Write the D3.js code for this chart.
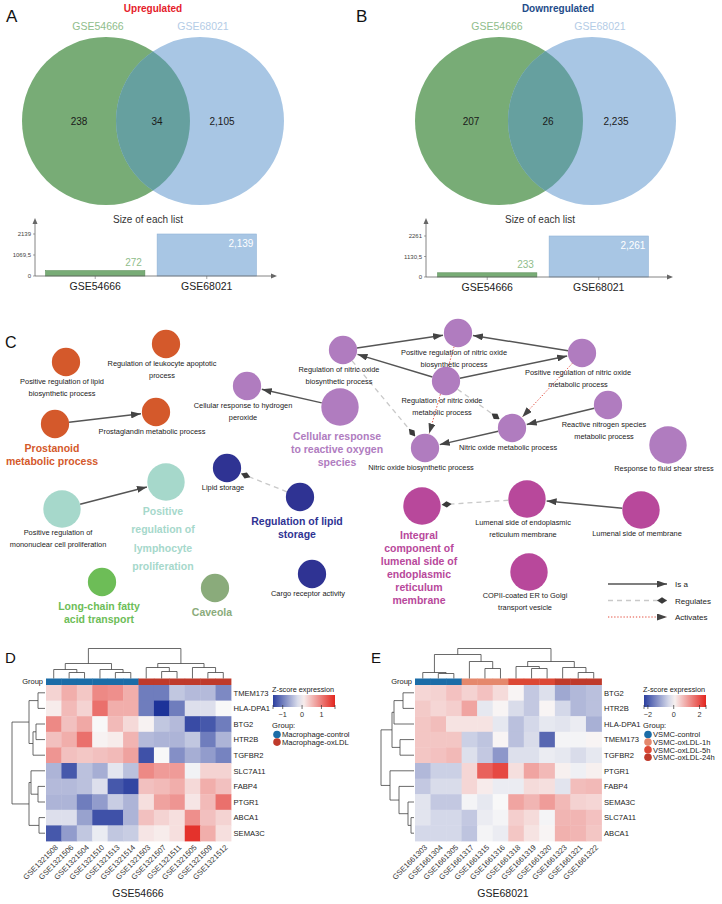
<!DOCTYPE html>
<html>
<head>
<meta charset="utf-8">
<script src="https://cdn.jsdelivr.net/npm/d3@7/dist/d3.min.js"></script>
<style>
html,body{margin:0;padding:0;background:#fff}
svg{display:block}
svg text{font-family:"Liberation Sans",Arial,Helvetica,sans-serif}
</style>
</head>
<body>
<svg id="fig" width="722" height="904"></svg>
<script>
// ================= DATA =================
const datasets = ["GSE54666", "GSE68021"];
// [only GSE54666, shared, only GSE68021]
const upOverlap = [238, 34, 2105];
const downOverlap = [207, 26, 2235];
const upListSize = [272, 2139];
const downListSize = [233, 2261];

// GO network (panel C)
const goClusters = [
  "Prostanoid metabolic process",
  "Positive regulation of lymphocyte proliferation",
  "Long-chain fatty acid transport",
  "Caveola",
  "Regulation of lipid storage",
  "Cellular response to reactive oxygen species",
  "Integral component of lumenal side of endoplasmic reticulum membrane"
];
const goTerms = [
  {term:"Positive regulation of lipid biosynthetic process", cluster:0, genes:4, hub:false, lines:["Positive regulation of lipid","biosynthetic process"]},
  {term:"Regulation of leukocyte apoptotic process", cluster:0, genes:4, hub:false, lines:["Regulation of leukocyte apoptotic","process"]},
  {term:"Prostanoid metabolic process", cluster:0, genes:4, hub:true, lines:["Prostanoid","metabolic process"]},
  {term:"Prostaglandin metabolic process", cluster:0, genes:4, hub:false, lines:["Prostaglandin metabolic process"]},
  {term:"Positive regulation of lymphocyte proliferation", cluster:1, genes:7, hub:true, lines:["Positive","regulation of","lymphocyte","proliferation"]},
  {term:"Positive regulation of mononuclear cell proliferation", cluster:1, genes:7, hub:false, lines:["Positive regulation of","mononuclear cell proliferation"]},
  {term:"Long-chain fatty acid transport", cluster:2, genes:4, hub:true, lines:["Long-chain fatty","acid transport"]},
  {term:"Caveola", cluster:3, genes:4, hub:true, lines:["Caveola"]},
  {term:"Lipid storage", cluster:4, genes:4, hub:false, lines:["Lipid storage"]},
  {term:"Regulation of lipid storage", cluster:4, genes:4, hub:true, lines:["Regulation of lipid","storage"]},
  {term:"Cargo receptor activity", cluster:4, genes:4, hub:false, lines:["Cargo receptor activity"]},
  {term:"Cellular response to hydrogen peroxide", cluster:5, genes:4, hub:false, lines:["Cellular response to hydrogen","peroxide"]},
  {term:"Cellular response to reactive oxygen species", cluster:5, genes:7, hub:true, lines:["Cellular response","to reactive oxygen","species"]},
  {term:"Regulation of nitric oxide biosynthetic process", cluster:5, genes:4, hub:false, lines:["Regulation of nitric oxide","biosynthetic process"]},
  {term:"Positive regulation of nitric oxide biosynthetic process", cluster:5, genes:4, hub:false, lines:["Positive regulation of nitric oxide","biosynthetic process"]},
  {term:"Regulation of nitric oxide metabolic process", cluster:5, genes:4, hub:false, lines:["Regulation of nitric oxide","metabolic process"]},
  {term:"Nitric oxide biosynthetic process", cluster:5, genes:4, hub:false, lines:["Nitric oxide biosynthetic process"]},
  {term:"Positive regulation of nitric oxide metabolic process", cluster:5, genes:4, hub:false, lines:["Positive regulation of nitric oxide","metabolic process"]},
  {term:"Reactive nitrogen species metabolic process", cluster:5, genes:4, hub:false, lines:["Reactive nitrogen species","metabolic process"]},
  {term:"Nitric oxide metabolic process", cluster:5, genes:4, hub:false, lines:["Nitric oxide metabolic process"]},
  {term:"Response to fluid shear stress", cluster:5, genes:7, hub:false, lines:["Response to fluid shear stress"]},
  {term:"Lumenal side of endoplasmic reticulum membrane", cluster:6, genes:7, hub:false, lines:["Lumenal side of endoplasmic","reticulum membrane"]},
  {term:"Lumenal side of membrane", cluster:6, genes:7, hub:false, lines:["Lumenal side of membrane"]},
  {term:"Integral component of lumenal side of endoplasmic reticulum membrane", cluster:6, genes:7, hub:true, lines:["Integral","component of","lumenal side of","endoplasmic","reticulum","membrane"]},
  {term:"COPII-coated ER to Golgi transport vesicle", cluster:6, genes:7, hub:false, lines:["COPII-coated ER to Golgi","transport vesicle"]}
];
const edgeTypes = ["Is a", "Regulates", "Activates"];
const goEdges = [
  ["Prostanoid metabolic process","Prostaglandin metabolic process",0],
  ["Positive regulation of mononuclear cell proliferation","Positive regulation of lymphocyte proliferation",0],
  ["Cellular response to reactive oxygen species","Cellular response to hydrogen peroxide",0],
  ["Regulation of lipid storage","Lipid storage",1],
  ["Regulation of nitric oxide biosynthetic process","Positive regulation of nitric oxide biosynthetic process",0],
  ["Regulation of nitric oxide metabolic process","Regulation of nitric oxide biosynthetic process",0],
  ["Regulation of nitric oxide metabolic process","Positive regulation of nitric oxide metabolic process",0],
  ["Positive regulation of nitric oxide metabolic process","Positive regulation of nitric oxide biosynthetic process",0],
  ["Regulation of nitric oxide biosynthetic process","Nitric oxide biosynthetic process",1],
  ["Positive regulation of nitric oxide biosynthetic process","Nitric oxide biosynthetic process",2],
  ["Positive regulation of nitric oxide metabolic process","Nitric oxide metabolic process",2],
  ["Regulation of nitric oxide metabolic process","Nitric oxide metabolic process",1],
  ["Reactive nitrogen species metabolic process","Nitric oxide metabolic process",0],
  ["Nitric oxide metabolic process","Nitric oxide biosynthetic process",0],
  ["Lumenal side of membrane","Lumenal side of endoplasmic reticulum membrane",0],
  ["Lumenal side of endoplasmic reticulum membrane","Integral component of lumenal side of endoplasmic reticulum membrane",1]
];

// Heatmap D (GSE54666)
const genesD = ["TMEM173","HLA-DPA1","BTG2","HTR2B","TGFBR2","SLC7A11","FABP4","PTGR1","ABCA1","SEMA3C"];
const samplesD = ["GSE1321508","GSE1321506","GSE1321504","GSE1321510","GSE1321513","GSE1321514","GSE1321503","GSE1321507","GSE1321511","GSE1321505","GSE1321509","GSE1321512"];
const groupNamesD = ["Macrophage-control","Macrophage-oxLDL"];
const sampleGroupD = [0,0,0,0,0,0,1,1,1,1,1,1];
const zD = [
  [0.3,0.6,0.4,0.9,0.85,0.6,-1.0,-1.0,-0.4,-0.5,-0.5,-0.9],
  [0.1,0.5,0.3,1.1,0.6,0.6,-1.0,-1.6,-1.0,-0.2,-0.2,0.0],
  [0.9,0.45,0.65,0.0,0.5,0.25,0.05,-0.4,-0.5,-1.4,-1.3,-1.0],
  [0.45,0.6,1.1,0.05,0.1,0.55,-0.5,-0.55,-0.55,-0.4,-1.0,-0.55],
  [0.8,0.45,0.4,0.45,0.5,0.7,-1.35,0.0,-0.85,-0.6,-0.75,-0.95],
  [-0.55,-1.3,-0.45,-0.6,-0.15,-0.45,0.9,0.75,0.75,-0.05,0.3,0.3],
  [-0.5,-0.5,-0.45,-0.2,-1.3,-1.45,0.45,0.5,0.6,0.25,0.6,0.45],
  [-0.55,-0.55,-1.0,-0.75,-0.35,-0.55,0.2,0.7,0.8,0.15,0.5,1.1],
  [-0.2,-0.2,-0.7,-1.35,-1.35,-0.55,0.45,0.3,0.2,0.85,0.45,0.3],
  [-1.3,-0.75,-0.4,-0.1,-0.4,-0.35,0.15,0.1,0.2,1.6,0.6,0.2]
];
// dendrograms: [height, left, right], leaves = index
const colTreeD = [30,[15,[9,0,[6,1,2]],[9,3,[6,4,5]]],[15,[11,6,[7,7,8]],[11,9,[6,10,11]]]];
const rowTreeD = [33,[16,[7,0,1],[12,[9,2,3],4]],[16,[14,5,[7,6,7]],[6,8,9]]];
const zTicksD = [-1,0,1];

// Heatmap E (GSE68021)
const genesE = ["BTG2","HTR2B","HLA-DPA1","TMEM173","TGFBR2","PTGR1","FABP4","SEMA3C","SLC7A11","ABCA1"];
const samplesE = ["GSE1661303","GSE1661304","GSE1661305","GSE1661317","GSE1661315","GSE1661316","GSE1661318","GSE1661319","GSE1661320","GSE1661323","GSE1661321","GSE1661322"];
const groupNamesE = ["VSMC-control","VSMC-oxLDL-1h","VSMC-oxLDL-5h","VSMC-oxLDL-24h"];
const sampleGroupE = [0,0,0,1,1,1,2,2,2,3,3,3];
const zE = [
  [0.4,0.45,0.65,0.45,0.65,0.35,0.05,-0.6,-0.3,-1.0,-0.8,-0.7],
  [0.55,0.4,0.5,1.0,-0.2,0.05,-0.35,-0.6,0.05,-0.4,-0.8,-0.7],
  [0.6,0.7,0.25,0.25,0.25,-0.2,-0.7,-0.4,-0.2,-0.25,-0.15,-0.9],
  [0.6,0.6,0.6,-0.5,-0.65,0.05,-0.7,-0.35,-1.8,-0.05,-0.05,0.05],
  [0.6,0.65,0.75,-0.3,-0.6,-1.2,-0.3,-0.3,-0.15,-0.2,-0.35,-0.2],
  [-0.8,-0.5,-0.5,0.4,1.8,2.1,0.3,1.0,0.75,0.1,-0.1,0.1],
  [-0.6,-0.35,-0.35,0.4,0.15,-0.15,-0.15,0.35,0.3,-0.25,0.7,0.75],
  [-0.25,-0.6,-0.6,-0.05,-0.2,0.0,1.0,0.8,1.1,0.75,0.45,0.4],
  [-0.25,-0.4,-0.4,-0.6,-0.15,-0.05,0.5,0.35,-0.05,0.8,0.8,0.65],
  [-0.4,-0.4,-0.4,-0.65,-0.05,-0.15,0.6,0.25,0.05,0.85,0.8,0.6]
];
const colTreeE = [30,[24,[6,0,[5,1,2]],[17,3,[10,4,5]]],[17,[12,6,[10,7,8]],[11,9,[6,10,11]]]];
const rowTreeE = [33,[22,[20,[11,0,1],2],[14,3,4]],[24,5,[15,6,[6,7,[3,8,9]]]]];
const zTicksE = [-2,0,2];

// ================= LAYOUT / STYLE =================
const svg = d3.select("#fig");
const defs = svg.append("defs");
const TXT = "#222";

function letter(x, y, t, fs) {
  svg.append("text").attr("x", x).attr("y", y).attr("font-size", fs || 16).attr("fill", "#111").text(t);
}

// ---------- Venn panels ----------
function vennPanel(L, counts, sizes, title, titleColor) {
  const g = svg.append("g");
  letter(L.letterX, 22, L.letter, 17);
  g.append("text").attr("x", L.titleX).attr("y", 12).attr("text-anchor", "middle")
    .attr("font-size", 10).attr("font-weight", "bold").attr("fill", titleColor).text(title);
  const cid = "vclip" + L.letter;
  defs.append("clipPath").attr("id", cid).append("circle").attr("cx", L.c[0]).attr("cy", L.cy).attr("r", L.r);
  const setFill = ["#78ac76", "#a8c6e4"];
  g.append("circle").attr("cx", L.c[0]).attr("cy", L.cy).attr("r", L.r).attr("fill", setFill[0]);
  g.append("circle").attr("cx", L.c[1]).attr("cy", L.cy).attr("r", L.r).attr("fill", setFill[1]);
  g.append("circle").attr("cx", L.c[1]).attr("cy", L.cy).attr("r", L.r).attr("fill", "#66a09f")
    .attr("clip-path", `url(#${cid})`);
  const setLabel = ["#8fbd8b", "#b4cce6"];
  datasets.forEach((d, i) => g.append("text").attr("x", L.lab[i]).attr("y", 30).attr("text-anchor", "middle")
    .attr("font-size", 10.5).attr("fill", setLabel[i]).text(d));
  counts.forEach((v, i) => g.append("text").attr("x", L.num[i]).attr("y", L.cy + 3.5).attr("text-anchor", "middle")
    .attr("font-size", 10).attr("fill", "#1a1a1a").text(d3.format(",")(v)));

  // bar chart of list sizes
  const max = d3.max(sizes);
  const x = d3.scaleBand().domain(datasets).range(L.band).paddingInner(0.11).paddingOuter(0.05);
  const y = d3.scaleLinear().domain([0, max]).range([L.base, L.top]);
  g.append("text").attr("x", (L.band[0] + L.band[1]) / 2 - 3).attr("y", 223).attr("text-anchor", "middle")
    .attr("font-size", 10).attr("fill", "#333").text("Size of each list");
  sizes.forEach((v, i) => {
    const bx = x(datasets[i]), by = y(v), bh = L.base - by;
    g.append("rect").attr("x", bx).attr("y", by).attr("width", x.bandwidth()).attr("height", bh)
      .attr("fill", setFill[i]).attr("stroke", i ? "#8fb2d6" : "#5b8f59").attr("stroke-width", 0.6);
    const inside = bh > 20;
    g.append("text").attr("x", bx + x.bandwidth() - 3).attr("y", inside ? by + 13 : by - 5)
      .attr("text-anchor", "end").attr("font-size", 10)
      .attr("fill", inside ? "#ffffff" : "#8fbd8b").text(d3.format(",")(v));
  });
  const ax = "#666";
  g.append("line").attr("x1", L.axisX).attr("x2", L.axisX).attr("y1", L.base).attr("y2", L.arrowTop + 5)
    .attr("stroke", ax).attr("stroke-width", 0.8);
  g.append("path").attr("d", `M${L.axisX - 2.5},${L.arrowTop + 6}L${L.axisX},${L.arrowTop}L${L.axisX + 2.5},${L.arrowTop + 6}Z`).attr("fill", ax);
  g.append("line").attr("x1", L.axisX).attr("x2", L.arrowRight - 5).attr("y1", L.base).attr("y2", L.base)
    .attr("stroke", ax).attr("stroke-width", 0.8);
  g.append("path").attr("d", `M${L.arrowRight - 6},${L.base - 2.5}L${L.arrowRight},${L.base}L${L.arrowRight - 6},${L.base + 2.5}Z`).attr("fill", ax);
  [0, max / 2, max].forEach(t => {
    g.append("line").attr("x1", L.axisX - 2).attr("x2", L.axisX).attr("y1", y(t)).attr("y2", y(t)).attr("stroke", ax).attr("stroke-width", 0.6);
    g.append("text").attr("x", L.axisX - 4).attr("y", y(t) + 2).attr("text-anchor", "end").attr("font-size", 6)
      .attr("fill", "#444").text(Number.isInteger(t) ? t : String(t).replace(".", ","));
  });
  datasets.forEach(d => {
    const cx = x(d) + x.bandwidth() / 2;
    g.append("line").attr("x1", cx).attr("x2", cx).attr("y1", L.base).attr("y2", L.base + 3).attr("stroke", ax).attr("stroke-width", 0.6);
    g.append("text").attr("x", cx).attr("y", L.base + 14).attr("text-anchor", "middle").attr("font-size", 10.5)
      .attr("fill", "#222").text(d);
  });
}
vennPanel({letter:"A", letterX:6, titleX:153, c:[106,200], cy:121, r:84, lab:[98,203], num:[79,157,222],
  band:[40,262], base:276, top:234, axisX:35, arrowTop:218, arrowRight:277},
  upOverlap, upListSize, "Upregulated", "#e5202a");
vennPanel({letter:"B", letterX:356, titleX:558, c:[499,592], cy:121, r:84, lab:[497,600], num:[471,548,616],
  band:[432,654], base:277, top:236, axisX:426, arrowTop:218, arrowRight:673},
  downOverlap, downListSize, "Downregulated", "#1e4c8a");

// ---------- Panel C: GO network ----------
letter(5, 348, "C", 16);
const clusterColor = d3.scaleOrdinal().domain(d3.range(goClusters.length))
  .range(["#d4592b", "#a6d8cb", "#6dbd57", "#8aab7b", "#2f3393", "#b07cbf", "#b8489b"]);
const rScale = d3.scaleSqrt().domain([0, 7]).range([0, 18.7]);
const nodePos = {
  "Positive regulation of lipid biosynthetic process":[66,362],
  "Regulation of leukocyte apoptotic process":[166,344],
  "Prostanoid metabolic process":[55,424],
  "Prostaglandin metabolic process":[156,412],
  "Positive regulation of lymphocyte proliferation":[166,482],
  "Positive regulation of mononuclear cell proliferation":[62,509],
  "Long-chain fatty acid transport":[102,582],
  "Caveola":[215,588],
  "Lipid storage":[227,468],
  "Regulation of lipid storage":[300,497],
  "Cargo receptor activity":[312,574],
  "Cellular response to hydrogen peroxide":[247,386],
  "Cellular response to reactive oxygen species":[340,407],
  "Regulation of nitric oxide biosynthetic process":[343,350],
  "Positive regulation of nitric oxide biosynthetic process":[458,333],
  "Regulation of nitric oxide metabolic process":[446,381],
  "Nitric oxide biosynthetic process":[425,448],
  "Positive regulation of nitric oxide metabolic process":[582,353],
  "Reactive nitrogen species metabolic process":[608,405],
  "Nitric oxide metabolic process":[512,428],
  "Response to fluid shear stress":[668,445],
  "Lumenal side of endoplasmic reticulum membrane":[527,499],
  "Lumenal side of membrane":[641,510],
  "Integral component of lumenal side of endoplasmic reticulum membrane":[422,506],
  "COPII-coated ER to Golgi transport vesicle":[529,572]
};
const hubLeading = {"Positive regulation of lymphocyte proliferation":18.5};

const mk = (id, d, color, w, h, refX) => {
  defs.append("marker").attr("id", id).attr("viewBox", `0 ${-h/2} ${w} ${h}`).attr("refX", refX).attr("refY", 0)
    .attr("markerUnits", "userSpaceOnUse").attr("markerWidth", w).attr("markerHeight", h).attr("orient", "auto")
    .append("path").attr("d", d).attr("fill", color);
};
mk("mIsa", "M0,-3.5L10,0L0,3.5Z", "#444", 10, 7, 10);
mk("mReg", "M0,0L5,-3.2L10,0L5,3.2Z", "#3a3a3a", 10, 7, 10);
mk("mAct", "M0,-3.5L10,0L0,3.5Z", "#444", 10, 7, 10);
const edgeStyle = [
  {stroke:"#555", width:1.5, dash:null, marker:"mIsa"},
  {stroke:"#c9c9c9", width:1.3, dash:"5,4", marker:"mReg"},
  {stroke:"#e24a3b", width:1, dash:"1.3,1.8", marker:"mAct"}
];
const nodeByTerm = new Map(goTerms.map(t => [t.term, t]));
const gC = svg.append("g");
goEdges.forEach(([s, t, type]) => {
  const a = nodePos[s], b = nodePos[t];
  const rs = rScale(nodeByTerm.get(s).genes), rt = rScale(nodeByTerm.get(t).genes);
  const dx = b[0] - a[0], dy = b[1] - a[1], len = Math.hypot(dx, dy);
  const ux = dx / len, uy = dy / len;
  const st = edgeStyle[type];
  gC.append("line").attr("x1", a[0] + ux * rs).attr("y1", a[1] + uy * rs)
    .attr("x2", b[0] - ux * (rt + 1)).attr("y2", b[1] - uy * (rt + 1))
    .attr("stroke", st.stroke).attr("stroke-width", st.width).attr("stroke-dasharray", st.dash)
    .attr("marker-end", `url(#${st.marker})`);
});
goTerms.forEach(t => {
  const [cx, cy] = nodePos[t.term];
  const r = rScale(t.genes);
  const col = clusterColor(t.cluster);
  gC.append("circle").attr("cx", cx).attr("cy", cy).attr("r", r).attr("fill", col);
  const txt = gC.append("text").attr("text-anchor", "middle");
  if (t.hub) {
    const lead = hubLeading[t.term] || 13;
    txt.attr("font-size", 10.5).attr("font-weight", "bold").attr("fill", col);
    t.lines.forEach((ln, i) => txt.append("tspan").attr("x", cx - 3).attr("y", cy + r + 14 + i * lead).text(ln));
  } else {
    txt.attr("font-size", 7.4).attr("fill", "#1a1a1a");
    t.lines.forEach((ln, i) => txt.append("tspan").attr("x", cx - 4).attr("y", cy + r + 7.5 + i * 12).text(ln));
  }
});
// legend
edgeTypes.forEach((name, i) => {
  const st = edgeStyle[i];
  const ly = 584 + i * 16.5;
  gC.append("line").attr("x1", 608).attr("x2", 667).attr("y1", ly).attr("y2", ly)
    .attr("stroke", st.stroke).attr("stroke-width", st.width).attr("stroke-dasharray", st.dash)
    .attr("marker-end", `url(#${st.marker})`);
  gC.append("text").attr("x", 675).attr("y", ly + 3).attr("font-size", 8).attr("fill", "#222").text(name);
});

// ---------- Heatmap panels ----------
const heatColors = ["#2b3f9f", "#f8f8f8", "#e3261f"];
function drawDendroCol(g, tree, x, base) {
  function rec(n) {
    if (typeof n === "number") return {p: x(n), h: 0};
    const [h, a, b] = n, A = rec(a), B = rec(b);
    g.append("path").attr("d", `M${A.p},${base - A.h}V${base - h}H${B.p}V${base - B.h}`)
      .attr("fill", "none").attr("stroke", "#444").attr("stroke-width", 0.8);
    return {p: (A.p + B.p) / 2, h};
  }
  rec(tree);
}
function drawDendroRow(g, tree, y, base) {
  function rec(n) {
    if (typeof n === "number") return {p: y(n), h: 0};
    const [h, a, b] = n, A = rec(a), B = rec(b);
    g.append("path").attr("d", `M${base - A.h},${A.p}H${base - h}V${B.p}H${base - B.h}`)
      .attr("fill", "none").attr("stroke", "#444").attr("stroke-width", 0.8);
    return {p: (A.p + B.p) / 2, h};
  }
  rec(tree);
}
function heatPanel(P) {
  const g = svg.append("g");
  letter(P.letterX, 663, P.letter, 15);
  const x = d3.scaleBand().domain(P.samples).range([P.x0, P.x1]);
  const y = d3.scaleBand().domain(P.genes).range([P.y0, P.y1]);
  const color = d3.scaleLinear().domain([P.zDomain[0], 0, P.zDomain[1]]).range(heatColors);
  const gcol = d3.scaleOrdinal().domain(P.groupNames).range(P.groupColors);
  P.values.forEach((row, i) => row.forEach((v, j) => {
    g.append("rect").attr("x", x(P.samples[j])).attr("y", y(P.genes[i]))
      .attr("width", x.bandwidth() + 0.4).attr("height", y.bandwidth() + 0.4).attr("fill", color(v));
  }));
  P.samples.forEach((s, j) => g.append("rect").attr("x", x(s)).attr("y", P.y0 - 6.5)
    .attr("width", x.bandwidth() + 0.4).attr("height", 6.5).attr("fill", gcol(P.groupNames[P.groups[j]])));
  g.append("text").attr("x", P.x0 - 3).attr("y", P.y0 - 1).attr("text-anchor", "end").attr("font-size", 7.5)
    .attr("fill", TXT).text("Group");
  drawDendroCol(g, P.colTree, j => x(P.samples[j]) + x.bandwidth() / 2, P.y0 - 6.5);
  drawDendroRow(g, P.rowTree, i => y(P.genes[i]) + y.bandwidth() / 2, P.x0 - 1);
  P.genes.forEach(gn => g.append("text").attr("x", P.x1 + 2.5).attr("y", y(gn) + y.bandwidth() / 2 + 2.7)
    .attr("font-size", 7.6).attr("fill", TXT).text(gn));
  P.samples.forEach(s => {
    const cx = x(s) + x.bandwidth() / 2 + 3;
    g.append("text").attr("transform", `translate(${cx},${P.y1 + 5}) rotate(-45)`).attr("text-anchor", "end")
      .attr("font-size", 7.6).attr("fill", "#333").attr("dy", "0.35em").text(s);
  });
  g.append("text").attr("x", P.titleX).attr("y", 897).attr("text-anchor", "middle").attr("font-size", 10.5)
    .attr("fill", TXT).text(P.title);
  // legend
  const lx = P.legX, lw = 62;
  g.append("text").attr("x", lx - 1).attr("y", 692).attr("font-size", 7.3).attr("fill", TXT).text("Z-score expression");
  const gid = "grad" + P.letter;
  const lg = defs.append("linearGradient").attr("id", gid);
  const ls = d3.scaleLinear().domain(P.zDomain).range([lx, lx + lw]);
  d3.range(0, 1.0001, 0.1).forEach(f => {
    const v = P.zDomain[0] + f * (P.zDomain[1] - P.zDomain[0]);
    lg.append("stop").attr("offset", f).attr("stop-color", color(v));
  });
  g.append("rect").attr("x", lx).attr("y", 695).attr("width", lw).attr("height", 12).attr("fill", `url(#${gid})`);
  [P.zDomain[0], ...P.zTicks, P.zDomain[1]].forEach(t => g.append("line").attr("x1", ls(t)).attr("x2", ls(t))
    .attr("y1", 705).attr("y2", 709).attr("stroke", "#333").attr("stroke-width", 0.7));
  P.zTicks.forEach(t => g.append("text").attr("x", ls(t)).attr("y", 717).attr("text-anchor", "middle")
    .attr("font-size", 7.3).attr("fill", "#333").text(t < 0 ? "\u2212" + Math.abs(t) : t));
  g.append("text").attr("x", lx - 1).attr("y", 728).attr("font-size", 7.6).attr("fill", TXT).text("Group:");
  P.groupNames.forEach((nm, k) => {
    const yy = 734.5 + k * 7.6;
    g.append("circle").attr("cx", lx + 4).attr("cy", yy).attr("r", 3.8).attr("fill", gcol(nm));
    g.append("text").attr("x", lx + 9).attr("y", yy + 2.8).attr("font-size", 7.6).attr("fill", TXT).text(nm);
  });
}
heatPanel({letter:"D", letterX:5, samples:samplesD, genes:genesD, values:zD, groups:sampleGroupD,
  groupNames:groupNamesD, groupColors:["#1b6ca7", "#bf3a2b"], colTree:colTreeD, rowTree:rowTreeD,
  zDomain:[-1.5, 1.7], zTicks:zTicksD, x0:46, x1:231, y0:685, y1:841, title:datasets[0], titleX:138, legX:273});
heatPanel({letter:"E", letterX:371, samples:samplesE, genes:genesE, values:zE, groups:sampleGroupE,
  groupNames:groupNamesE, groupColors:["#1b6ca7", "#e5886c", "#dc4835", "#bf3a2b"], colTree:colTreeE, rowTree:rowTreeE,
  zDomain:[-2.3, 2.5], zTicks:zTicksE, x0:415, x1:601.5, y0:685, y1:841, title:datasets[1], titleX:503, legX:644});
</script>
</body>
</html>
